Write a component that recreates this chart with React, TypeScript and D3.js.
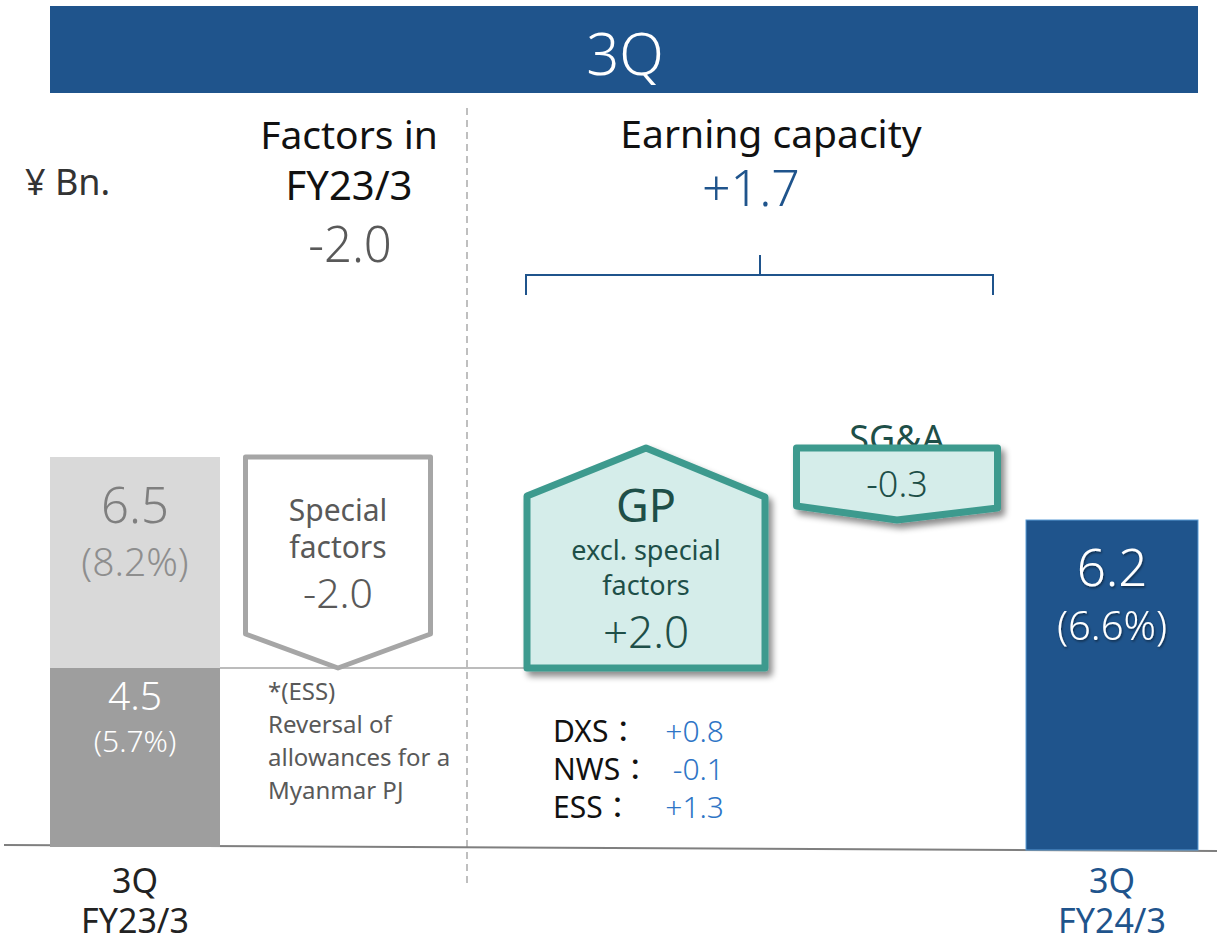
import React from "react";
import * as d3 from "d3";

// ---- data ----
const categories = ["3Q FY23/3", "Special factors", "GP excl. special factors", "SG&A", "3Q FY24/3"];
const startTotal = 6.5;
const startUnderlying = 4.5;
const specialFactors = -2.0;
const gpChange = 2.0;
const sgaChange = -0.3;
const endTotal = 6.2;
const startPct = "(8.2%)";
const underlyingPct = "(5.7%)";
const endPct = "(6.6%)";
const earningCapacity = "+1.7";
const factorsFY23 = "-2.0";
const segLabels = ["DXS", "NWS", "ESS"];
const segValues = ["+0.8", "-0.1", "+1.3"];
const footnote = ["*(ESS)", "Reversal of", "allowances for a", "Myanmar PJ"];

const W = 1217;
const H = 942;
const FONT = "'Noto Sans', 'Open Sans', 'Noto Sans CJK JP', sans-serif";
const BLUE = "#1F548C";
const TEAL = "#3E9A8E";
const TEAL_FILL = "#D5EDEA";
const TEAL_TEXT = "#1E4F48";

// piecewise linear value scale (the slide is not drawn to a single linear scale)
const y = d3.scaleLinear().domain([0, 4.5, 6.2, 6.5]).range([847, 668, 520, 457]);
const x = d3.scaleOrdinal<string, number>().domain(categories).range([135, 338, 646, 897, 1112]);
const widths = d3.scaleOrdinal<string, number>().domain(categories).range([170, 185, 238, 201, 172]);

export default function App() {
  const c0 = categories[0], c1 = categories[1], c2 = categories[2], c3 = categories[3], c4 = categories[4];

  // Special factors (down arrow box)
  const sfTop = startTotal;
  const sfBot = startTotal + specialFactors;
  const sfL = x(c1) - widths(c1) / 2, sfR = x(c1) + widths(c1) / 2;
  const sfPath = d3.path();
  sfPath.moveTo(sfL, y(sfTop));
  sfPath.lineTo(sfR, y(sfTop));
  sfPath.lineTo(sfR, y(sfBot) - 34);
  sfPath.lineTo(x(c1), y(sfBot));
  sfPath.lineTo(sfL, y(sfBot) - 34);
  sfPath.closePath();

  // GP (up arrow box)
  const gpBot = sfBot;
  const gpTop = sfBot + gpChange;
  const gpL = x(c2) - widths(c2) / 2, gpR = x(c2) + widths(c2) / 2;
  const gpPath = d3.path();
  gpPath.moveTo(gpL, y(gpBot));
  gpPath.lineTo(gpL, y(gpTop) + 39);
  gpPath.lineTo(x(c2), y(gpTop) - 9);
  gpPath.lineTo(gpR, y(gpTop) + 40);
  gpPath.lineTo(gpR, y(gpBot));
  gpPath.closePath();

  // SG&A (down arrow box)
  const sgTop = gpTop;
  const sgBot = gpTop + sgaChange;
  const sgL = x(c3) - widths(c3) / 2, sgR = x(c3) + widths(c3) / 2;
  const sgPath = d3.path();
  sgPath.moveTo(sgL, y(sgTop) - 9);
  sgPath.lineTo(sgR, y(sgTop) - 9);
  sgPath.lineTo(sgR, y(sgBot) - 12);
  sgPath.lineTo(x(c3), y(sgBot));
  sgPath.lineTo(sgL, y(sgBot) - 14);
  sgPath.closePath();

  const b0L = x(c0) - widths(c0) / 2;
  const b4L = x(c4) - widths(c4) / 2;
  const LW = 300;

  return (
    <svg width={W} height={H} style={{ position: "absolute", left: 0, top: 0, fontFamily: FONT }}>
      <defs>
        <filter id="shadow" x="-20%" y="-20%" width="150%" height="150%">
          <feDropShadow dx="4" dy="5" stdDeviation="3" floodColor="#000" floodOpacity="0.45" />
        </filter>
        <filter id="tshadow" x="-20%" y="-20%" width="150%" height="150%">
          <feDropShadow dx="1" dy="1.5" stdDeviation="1" floodColor="#000" floodOpacity="0.5" />
        </filter>
      </defs>
      <rect width={W} height={H} fill="#fff" />

      {/* title bar */}
      <rect x={50} y={6} width={1148} height={87} fill={BLUE} />
      <text x={625} y={75} textAnchor="middle" fill="#fff" fontSize={58} fontWeight={LW}>3Q</text>

      {/* headers */}
      <text x={25} y={195} fill="#333" fontSize={36}>¥ Bn.</text>
      <text x={349} y={149} textAnchor="middle" fill="#111" fontSize={39}>Factors in</text>
      <text x={349} y={200} textAnchor="middle" fill="#111" fontSize={40}>FY23/3</text>
      <text x={350} y={262} textAnchor="middle" fill="#595959" fontSize={49} fontWeight={LW}>{factorsFY23}</text>
      <text x={771} y={148} textAnchor="middle" fill="#111" fontSize={39}>Earning capacity</text>
      <text x={751} y={206} textAnchor="middle" fill={BLUE} fontSize={50} fontWeight={LW}>{earningCapacity}</text>

      {/* bracket */}
      <path d={`M526,295 V275 H993 V295 M760,255 V275`} fill="none" stroke={BLUE} strokeWidth={2} />

      {/* dashed separator */}
      <line x1={467} y1={108} x2={467} y2={888} stroke="#BFBFBF" strokeWidth={2} strokeDasharray="7,5" />

      {/* axis baseline */}
      <line x1={4} y1={845} x2={1217} y2={851} stroke="#7F7F7F" strokeWidth={2} />

      {/* connector line */}
      <line x1={b0L + widths(c0)} y1={y(startUnderlying)} x2={gpL} y2={y(startUnderlying)} stroke="#A6A6A6" strokeWidth={1.5} />

      {/* start bar */}
      <rect x={b0L} y={y(startTotal)} width={widths(c0)} height={y(startUnderlying) - y(startTotal)} fill="#D9D9D9" />
      <rect x={b0L} y={y(startUnderlying)} width={widths(c0)} height={y(0) - y(startUnderlying)} fill="#9E9E9E" />
      <text x={x(c0)} y={523} textAnchor="middle" fill="#7F7F7F" fontSize={49} fontWeight={LW}>{startTotal.toFixed(1)}</text>
      <text x={x(c0)} y={576} textAnchor="middle" fill="#8E8E8E" fontSize={39} fontWeight={LW}>{startPct}</text>
      <text x={x(c0)} y={710} textAnchor="middle" fill="#fff" fontSize={39} fontWeight={LW}>{startUnderlying.toFixed(1)}</text>
      <text x={x(c0)} y={752} textAnchor="middle" fill="#fff" fontSize={30} fontWeight={LW}>{underlyingPct}</text>

      {/* special factors */}
      <path d={sfPath.toString()} fill="#fff" stroke="#A6A6A6" strokeWidth={5} strokeLinejoin="round" />
      <text x={x(c1)} y={521} textAnchor="middle" fill="#595959" fontSize={30}>Special</text>
      <text x={x(c1)} y={558} textAnchor="middle" fill="#595959" fontSize={30}>factors</text>
      <text x={x(c1)} y={608} textAnchor="middle" fill="#595959" fontSize={41} fontWeight={LW}>{specialFactors.toFixed(1)}</text>

      {/* footnote */}
      {footnote.map((t, i) => (
        <text key={t} x={268} y={700 + i * 33} fill="#595959" fontSize={24}>{t}</text>
      ))}

      {/* GP */}
      <path d={gpPath.toString()} fill={TEAL_FILL} stroke={TEAL} strokeWidth={7} strokeLinejoin="round" filter="url(#shadow)" />
      <text x={x(c2)} y={522} textAnchor="middle" fill={TEAL_TEXT} fontSize={45}>GP</text>
      <text x={x(c2)} y={560} textAnchor="middle" fill={TEAL_TEXT} fontSize={27}>excl. special</text>
      <text x={x(c2)} y={595} textAnchor="middle" fill={TEAL_TEXT} fontSize={27}>factors</text>
      <text x={x(c2)} y={648} textAnchor="middle" fill={TEAL_TEXT} fontSize={44} fontWeight={LW}>{"+" + gpChange.toFixed(1)}</text>

      {/* SG&A */}
      <text x={x(c3)} y={451} textAnchor="middle" fill={TEAL_TEXT} fontSize={36}>SG&amp;A</text>
      <path d={sgPath.toString()} fill={TEAL_FILL} stroke={TEAL} strokeWidth={7} strokeLinejoin="round" filter="url(#shadow)" />
      <text x={x(c3)} y={497} textAnchor="middle" fill={TEAL_TEXT} fontSize={36} fontWeight={LW}>{sgaChange.toFixed(1)}</text>

      {/* segment breakdown */}
      {segLabels.map((s, i) => (
        <g key={s}>
          <text x={553} y={742 + i * 38} fill="#111" fontSize={30}>{s + "："}</text>
          <text x={724} y={742 + i * 38} textAnchor="end" fill="#2E75C6" fontSize={30} fontWeight={LW}>{segValues[i]}</text>
        </g>
      ))}

      {/* end bar */}
      <rect x={b4L} y={y(endTotal)} width={widths(c4)} height={y(0) - y(endTotal) + 3} fill={BLUE} stroke="#5B9BD5" strokeWidth={1} />
      <text x={x(c4)} y={586} textAnchor="middle" fill="#fff" fontSize={51} fontWeight={LW} filter="url(#tshadow)">{endTotal.toFixed(1)}</text>
      <text x={x(c4)} y={640} textAnchor="middle" fill="#fff" fontSize={40} fontWeight={LW} filter="url(#tshadow)">{endPct}</text>

      {/* category labels */}
      <text x={x(c0)} y={893} textAnchor="middle" fill="#222" fontSize={34}>3Q</text>
      <text x={x(c0)} y={933} textAnchor="middle" fill="#222" fontSize={34}>FY23/3</text>
      <text x={x(c4)} y={893} textAnchor="middle" fill={BLUE} fontSize={34}>3Q</text>
      <text x={x(c4)} y={933} textAnchor="middle" fill={BLUE} fontSize={34}>FY24/3</text>
    </svg>
  );
}
